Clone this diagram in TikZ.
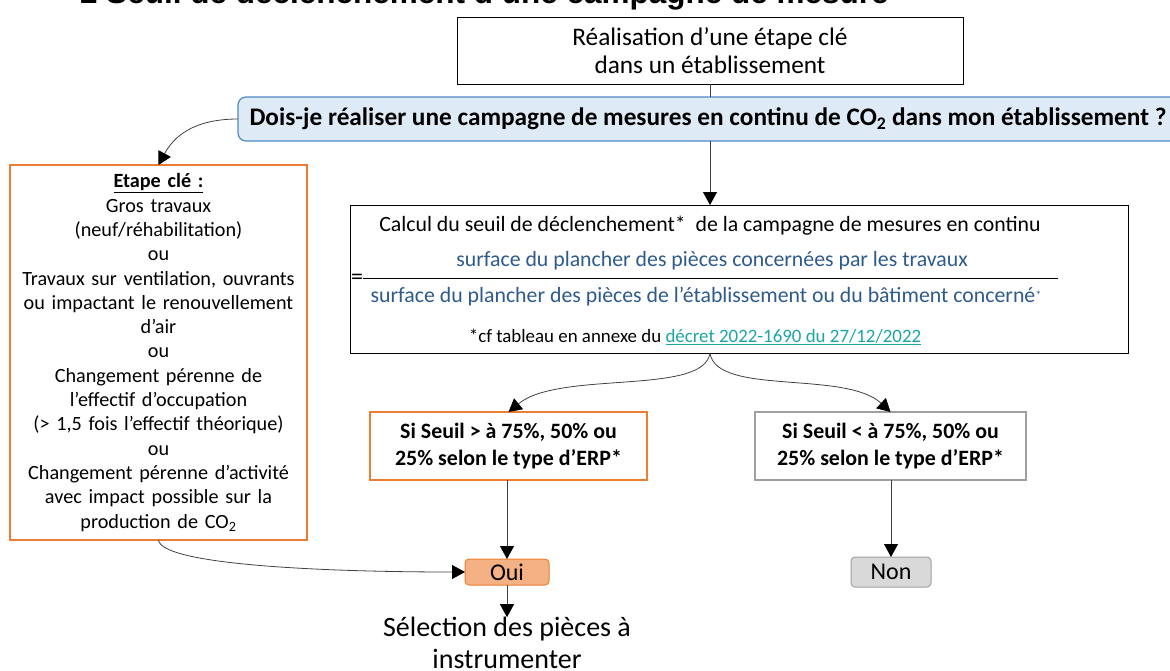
\documentclass[tikz,border=0pt]{standalone}
\usepackage{fontspec}
\setmainfont{Carlito}
\newfontfamily\titlefont{Liberation Sans}
\usetikzlibrary{arrows.meta}
\definecolor{orangeb}{HTML}{ED7D31}
\definecolor{blueb}{HTML}{4F88C6}
\definecolor{bluefill}{HTML}{DEEBF7}
\definecolor{ouifill}{HTML}{F4B183}
\definecolor{nonfill}{HTML}{D9D9D9}
\definecolor{grayb}{HTML}{A0A0A0}
\definecolor{fractxt}{HTML}{2F5B8C}
\definecolor{linkc}{HTML}{1BA5A5}
\definecolor{connc}{HTML}{404040}
\begin{document}
\begin{tikzpicture}[x=1pt,y=-1pt,
  every node/.style={inner sep=0pt, outer sep=0pt},
  conn/.style={draw=connc, line width=0.8pt, -{Triangle[length=13pt,width=14pt,color=black]}},
  connplain/.style={draw=connc, line width=0.8pt},
  plainbox/.style={draw=black, line width=1pt, fill=white, align=center},
  obox/.style={draw=orangeb, line width=1.2pt, fill=white, align=center},
  gbox/.style={draw=grayb, line width=1.2pt, fill=white, align=center},
  bluebox/.style={draw=blueb, fill=bluefill, rounded corners=8pt, line width=1.2pt},
  txt/.style={font=\fontsize{21.8}{24}\selectfont},
  fractext/.style={font=\fontsize{21.8}{24}\selectfont, text=fractxt},
  seuiltxt/.style={font=\bfseries\fontsize{21.9}{27}\selectfont}]
\useasboundingbox (0,0) rectangle (1170,670);
\clip (0,0) rectangle (1170,670);

\node[anchor=base west, font=\titlefont\bfseries\fontsize{31.5}{34}\selectfont] (title) at (80,3) {2 Seuil de déclenchement d’une campagne de mesure};

\node[plainbox, minimum width=506pt, minimum height=67pt, font=\fontsize{25.3}{28}\selectfont] (real) at (710,50.5) {Réalisation d’une étape clé\\dans un établissement};

\node[bluebox, minimum width=940pt, minimum height=44pt, font=\bfseries\fontsize{25.3}{28}\selectfont] (quest) at (708,119) {Dois-je réaliser une campagne de mesures en continu de CO\textsubscript{2} dans mon établissement ?};

\node[plainbox, minimum width=778pt, minimum height=148pt] (calc) at (739,279) {};
\node[txt] (calcl1) at (710,226) {Calcul du seuil de déclenchement*\ \ de la campagne de mesures en continu};
\node[fractext] (num) at (712,261) {surface du plancher des pièces concernées par les travaux};
\node[fractext] (den) at (706,297) {surface du plancher des pièces de l’établissement ou du bâtiment concerné{\fontsize{12}{12}\selectfont\raisebox{3pt}{*}}};
\node[font=\fontsize{24}{26}\selectfont] (eq) at (357,279) {=};
\coordinate (fracL) at (363,278);
\coordinate (fracR) at (1058,278);
\draw[line width=1pt] (fracL) -- (fracR);
\node[font=\fontsize{18.9}{21}\selectfont] (foot) at (695,337) {*cf tableau en annexe du {\color{linkc}\underline{décret 2022-1690 du 27/12/2022}}};

\node[obox, minimum width=297pt, minimum height=375pt, text width=292pt, font=\fontsize{20.2}{24.3}\selectfont] (etape) at (158.5,352.5) {\textbf{\underline{Etape clé :}}\\Gros travaux\\(neuf/réhabilitation)\\ou\\Travaux sur ventilation, ouvrants\\ou impactant le renouvellement\\d’air\\ou\\Changement pérenne de\\l’effectif d’occupation\\(> 1,5 fois l’effectif théorique)\\ou\\Changement pérenne d’activité\\avec impact possible sur la\\production de CO\textsubscript{2}};

\node[obox, minimum width=277pt, minimum height=68pt, seuiltxt] (seuilsup) at (508.5,446) {Si Seuil > à 75\%, 50\% ou\\25\% selon le type d’ERP*};
\node[gbox, minimum width=271pt, minimum height=68pt, seuiltxt] (seuilinf) at (890.5,446) {Si Seuil < à 75\%, 50\% ou\\25\% selon le type d’ERP*};

\node[draw=orangeb, fill=ouifill, rounded corners=4pt, line width=1pt, minimum width=84pt, minimum height=26pt, font=\fontsize{24}{26}\selectfont] (oui) at (507,572) {Oui};
\node[draw=grayb, fill=nonfill, rounded corners=4pt, line width=1pt, minimum width=80pt, minimum height=30pt, font=\fontsize{24}{26}\selectfont] (non) at (891,572) {Non};

\node[align=center, font=\fontsize{28}{32}\selectfont] (sel) at (507,643) {Sélection des pièces à\\instrumenter};

\draw[connplain] (real.south) -- (real.south |- quest.north);
\draw[conn] (real.south |- quest.south) -- (real.south |- calc.north);
\draw[conn] (quest.west) .. controls +(-45,0) and +(15,-28) .. (etape.north);
\draw[conn] (etape.south) .. controls +(3,25) and +(-140,0) .. (oui.west);
\draw[conn] (real.south |- calc.south) .. controls +(-6,43) and +(51,-42) .. (seuilsup.north);
\draw[conn] (real.south |- calc.south) .. controls +(6,43) and +(-45,-42) .. (seuilinf.north);
\draw[conn] (oui.north |- seuilsup.south) -- (oui.north);
\draw[conn] (non.north |- seuilinf.south) -- (non.north);
\draw[conn] (oui.south) -- (sel.north);
\end{tikzpicture}
\end{document}
